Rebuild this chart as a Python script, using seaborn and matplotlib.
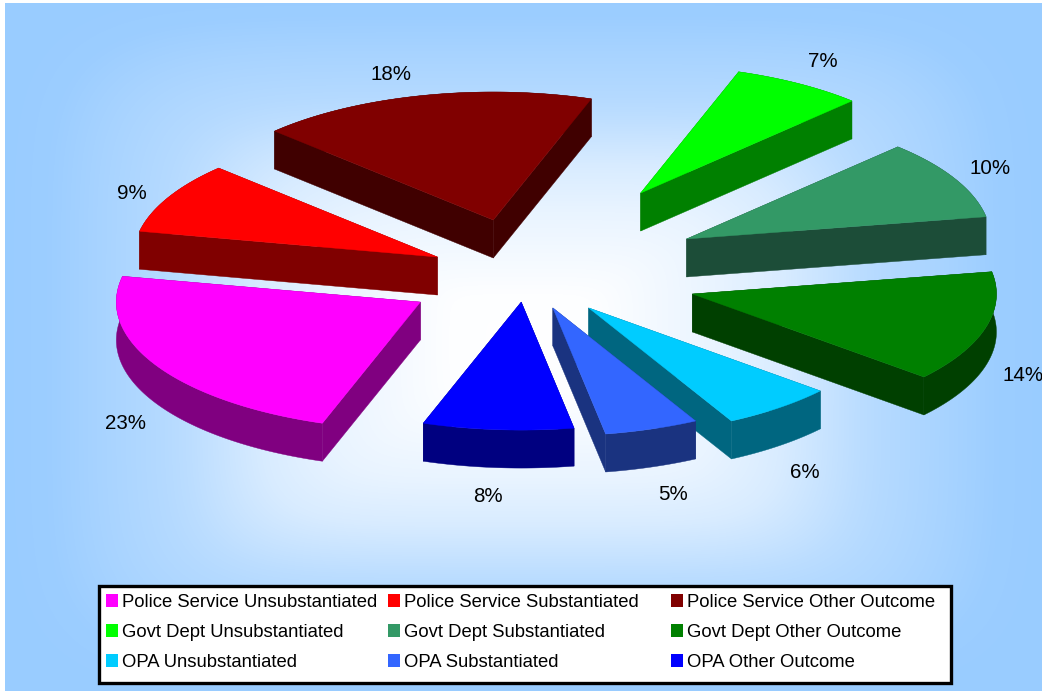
import numpy as np
import matplotlib
matplotlib.use("Agg")
import matplotlib.pyplot as plt
from matplotlib.patches import Patch, Rectangle
import seaborn as sns

# Share of complaints by body and outcome, in percent
categories = [
    "Police Service Unsubstantiated", "Police Service Substantiated", "Police Service Other Outcome",
    "Govt Dept Unsubstantiated", "Govt Dept Substantiated", "Govt Dept Other Outcome",
    "OPA Unsubstantiated", "OPA Substantiated", "OPA Other Outcome",
]
shares = [23, 9, 18, 7, 10, 14, 6, 5, 8]

top_colors = ["#FF00FF", "#FF0000", "#800000", "#00FF00", "#339966",
              "#008000", "#00CCFF", "#3366FF", "#0000FF"]
wall_colors = ["#800080", "#800000", "#400000", "#008000", "#1C4D38",
               "#004000", "#006680", "#1A3380", "#000080"]

# Slice displacement from the pie centre, as fractions of the ground radii
explode_x = [-0.443, -0.387, -0.203, 0.282, 0.433, 0.452, 0.111, -0.007, -0.111]
explode_y = [-0.313, 0.039, 0.328, 0.539, 0.180, -0.250, -0.359, -0.359, -0.313]

label_x = [126, 132, 391, 823, 990, 1023, 805, 673, 488]
label_y = [423, 193, 74, 61, 168, 375, 472, 494, 496]

CENTER = (555.0, 262.0)
RADIUS_X, RADIUS_Y = 304.0, 128.0
DEPTH = 38.0
START_ANGLE = 198.8

sns.set_theme(style="white")
plt.rcParams["font.family"] = ["Liberation Sans", "DejaVu Sans"]

W, H = 1042, 691
fig = plt.figure(figsize=(W / 100, H / 100), dpi=100, facecolor="white")
ax = fig.add_axes([0, 0, 1, 1])
ax.axis("off")

# Panel fill: rounded rectangular bands fading from white to light blue
left, top = 5, 3
xx, yy = np.meshgrid(np.arange(left, W) + 0.5, np.arange(top, H) + 0.5)
reach = ((np.abs(xx - 523) / 500) ** 6 + (np.abs(yy - 345) / 345) ** 6) ** (1 / 6)
fade = np.interp(reach, [0, 0.15, 0.39, 0.52, 0.67, 0.72, 0.85, 0.95, 1.05],
                 [0, 0.02, 0.22, 0.38, 0.66, 0.73, 0.86, 0.97, 1])[..., None]
panel = (1 - fade) + fade * np.array([0x99, 0xCC, 0xFF]) / 255
ax.imshow(panel, extent=(left, W, H, top), aspect="auto", zorder=0, interpolation="nearest")
ax.set_xlim(0, W)
ax.set_ylim(H, 0)

palette = sns.color_palette(top_colors)
walls = sns.color_palette(wall_colors)

start = START_ANGLE
for i, share in enumerate(shares):
    sweep = share / 100 * 360
    theta = np.radians(np.linspace(start, start + sweep, 90))
    start += sweep
    apex_x = CENTER[0] + explode_x[i] * RADIUS_X
    apex_y = CENTER[1] - explode_y[i] * RADIUS_Y
    arc_x = apex_x + RADIUS_X * np.sin(theta)
    arc_y = apex_y - RADIUS_Y * np.cos(theta)
    z = 2 + i * 0.01
    # Outer band and both cut faces; the top face hides whatever lies behind it
    ax.fill(np.r_[arc_x, arc_x[::-1]], np.r_[arc_y, arc_y[::-1] + DEPTH],
            color=walls[i], lw=0.3, zorder=z)
    for ex, ey in ((arc_x[0], arc_y[0]), (arc_x[-1], arc_y[-1])):
        ax.fill([apex_x, ex, ex, apex_x], [apex_y, ey, ey + DEPTH, apex_y + DEPTH],
                color=walls[i], lw=0.3, zorder=z)
    ax.fill(np.r_[apex_x, arc_x], np.r_[apex_y, arc_y], color=palette[i], lw=0.3, zorder=z + 1)

for x, y, share in zip(label_x, label_y, shares):
    ax.text(x, y, f"{share}%", ha="center", va="center", fontsize=14.8,
            color="black", zorder=5, clip_on=False)

# Legend box with one frameless legend per column, since column gaps are uneven
ax.add_patch(Rectangle((99, 586), 852, 97, facecolor="white", edgecolor="black",
                       linewidth=2.4, zorder=6))
handles = [Patch(facecolor=c, edgecolor="none") for c in palette]
for col, swatch_x in enumerate((106, 388, 671)):
    legend = ax.legend(
        handles[col::3], categories[col::3],
        loc="upper left", bbox_to_anchor=(swatch_x / W, 1 - 594 / H),
        prop={"size": 13.3}, labelcolor="black", frameon=False,
        handlelength=0.66, handleheight=0.66,
        handletextpad=0.22, labelspacing=0.7, borderpad=0, borderaxespad=0,
    )
    legend.set_zorder(7)
    # ax.legend keeps only the latest legend, so earlier columns are added by hand
    if col < 2:
        ax.add_artist(legend)

fig.savefig("out.png", dpi=100, facecolor="white")
